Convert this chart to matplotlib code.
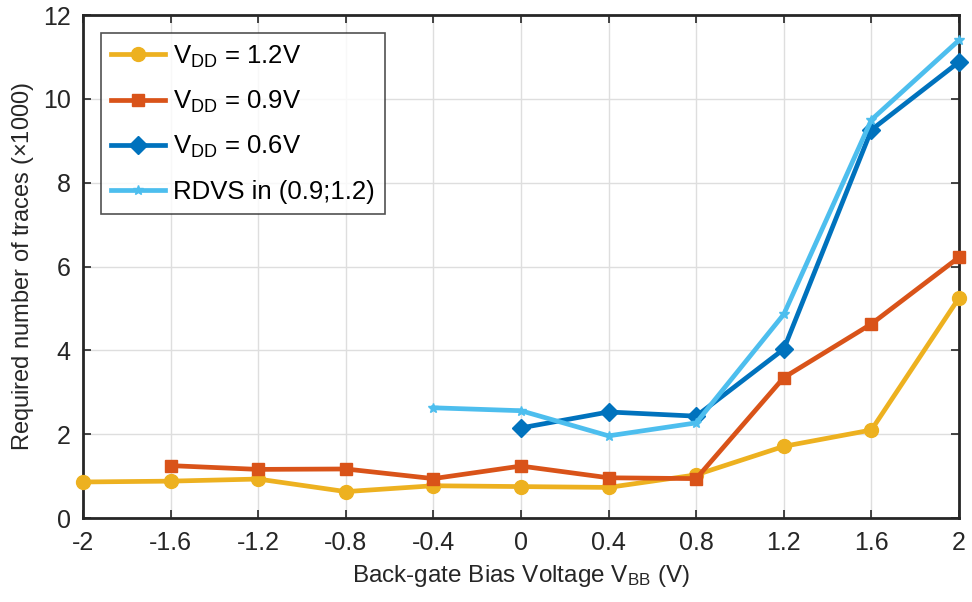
import matplotlib
matplotlib.use("Agg")
import matplotlib.pyplot as plt

plt.rcParams['font.family'] = ['Liberation Sans', 'DejaVu Sans']
plt.rcParams['mathtext.fontset'] = 'custom'
plt.rcParams['mathtext.rm'] = 'Liberation Sans'
plt.rcParams['mathtext.it'] = 'Liberation Sans'

# Back-gate bias sweep (V)
vbb_12 = [-2, -1.6, -1.2, -0.8, -0.4, 0, 0.4, 0.8, 1.2, 1.6, 2]
traces_12 = [0.86, 0.88, 0.93, 0.63, 0.77, 0.75, 0.73, 1.03, 1.71, 2.1, 5.25]

vbb_09 = [-1.6, -1.2, -0.8, -0.4, 0, 0.4, 0.8, 1.2, 1.6, 2]
traces_09 = [1.25, 1.16, 1.17, 0.94, 1.24, 0.96, 0.94, 3.35, 4.63, 6.22]

vbb_06 = [0, 0.4, 0.8, 1.2, 1.6, 2]
traces_06 = [2.15, 2.53, 2.43, 4.03, 9.26, 10.88]

vbb_rdvs = [-0.4, 0, 0.4, 0.8, 1.2, 1.6, 2]
traces_rdvs = [2.63, 2.56, 1.96, 2.27, 4.86, 9.5, 11.4]

x_ticks = [-2, -1.6, -1.2, -0.8, -0.4, 0, 0.4, 0.8, 1.2, 1.6, 2]
x_tick_labels = ['-2', '-1.6', '-1.2', '-0.8', '-0.4', '0', '0.4', '0.8', '1.2', '1.6', '2']
y_ticks = [0, 2, 4, 6, 8, 10, 12]

fig = plt.figure(figsize=(9.72, 6.02), dpi=100)
ax = fig.add_axes([0.0854, 0.1395, 0.9012, 0.8355])

lw = 3.4
ax.plot(vbb_12, traces_12, color='#EDB120', lw=lw, marker='o', ms=10,
        label=r'V$_{\mathrm{DD}}$ = 1.2V', clip_on=False, zorder=3)
ax.plot(vbb_09, traces_09, color='#D95319', lw=lw, marker='s', ms=9,
        label=r'V$_{\mathrm{DD}}$ = 0.9V', clip_on=False, zorder=3)
ax.plot(vbb_06, traces_06, color='#0072BD', lw=lw, marker='D', ms=9,
        label=r'V$_{\mathrm{DD}}$ = 0.6V', clip_on=False, zorder=3)
ax.plot(vbb_rdvs, traces_rdvs, color='#4DBEEE', lw=lw, marker='*', ms=7,
        label='RDVS in (0.9;1.2)', clip_on=False, zorder=3)

ax.set_xlim(-2, 2)
ax.set_ylim(0, 12)
ax.set_xticks(x_ticks)
ax.set_xticklabels(x_tick_labels)
ax.set_yticks(y_ticks)

ax.grid(True, color='#dedede', lw=1.0)
ax.set_axisbelow(True)
for s in ax.spines.values():
    s.set_linewidth(2.0)
    s.set_color('#262626')
ax.tick_params(direction='in', length=6, width=1.2, top=True, right=True,
               labelsize=18, colors='#262626', pad=9)

ax.set_xlabel(r'Back-gate Bias Voltage V$_{\mathrm{BB}}$ (V)', fontsize=17.5,
              color='#262626', labelpad=6)
ax.set_ylabel('Required number of traces ($\\times$1000)', fontsize=17,
              color='#262626', labelpad=5)

leg = ax.legend(loc='upper left', fontsize=18.5, frameon=True, fancybox=False,
                edgecolor='#262626', handlelength=2.1, borderaxespad=0.7,
                labelspacing=0.75, handletextpad=0.3, borderpad=0.4)
leg.get_frame().set_linewidth(1.2)

fig.savefig('out.png', dpi=100)
